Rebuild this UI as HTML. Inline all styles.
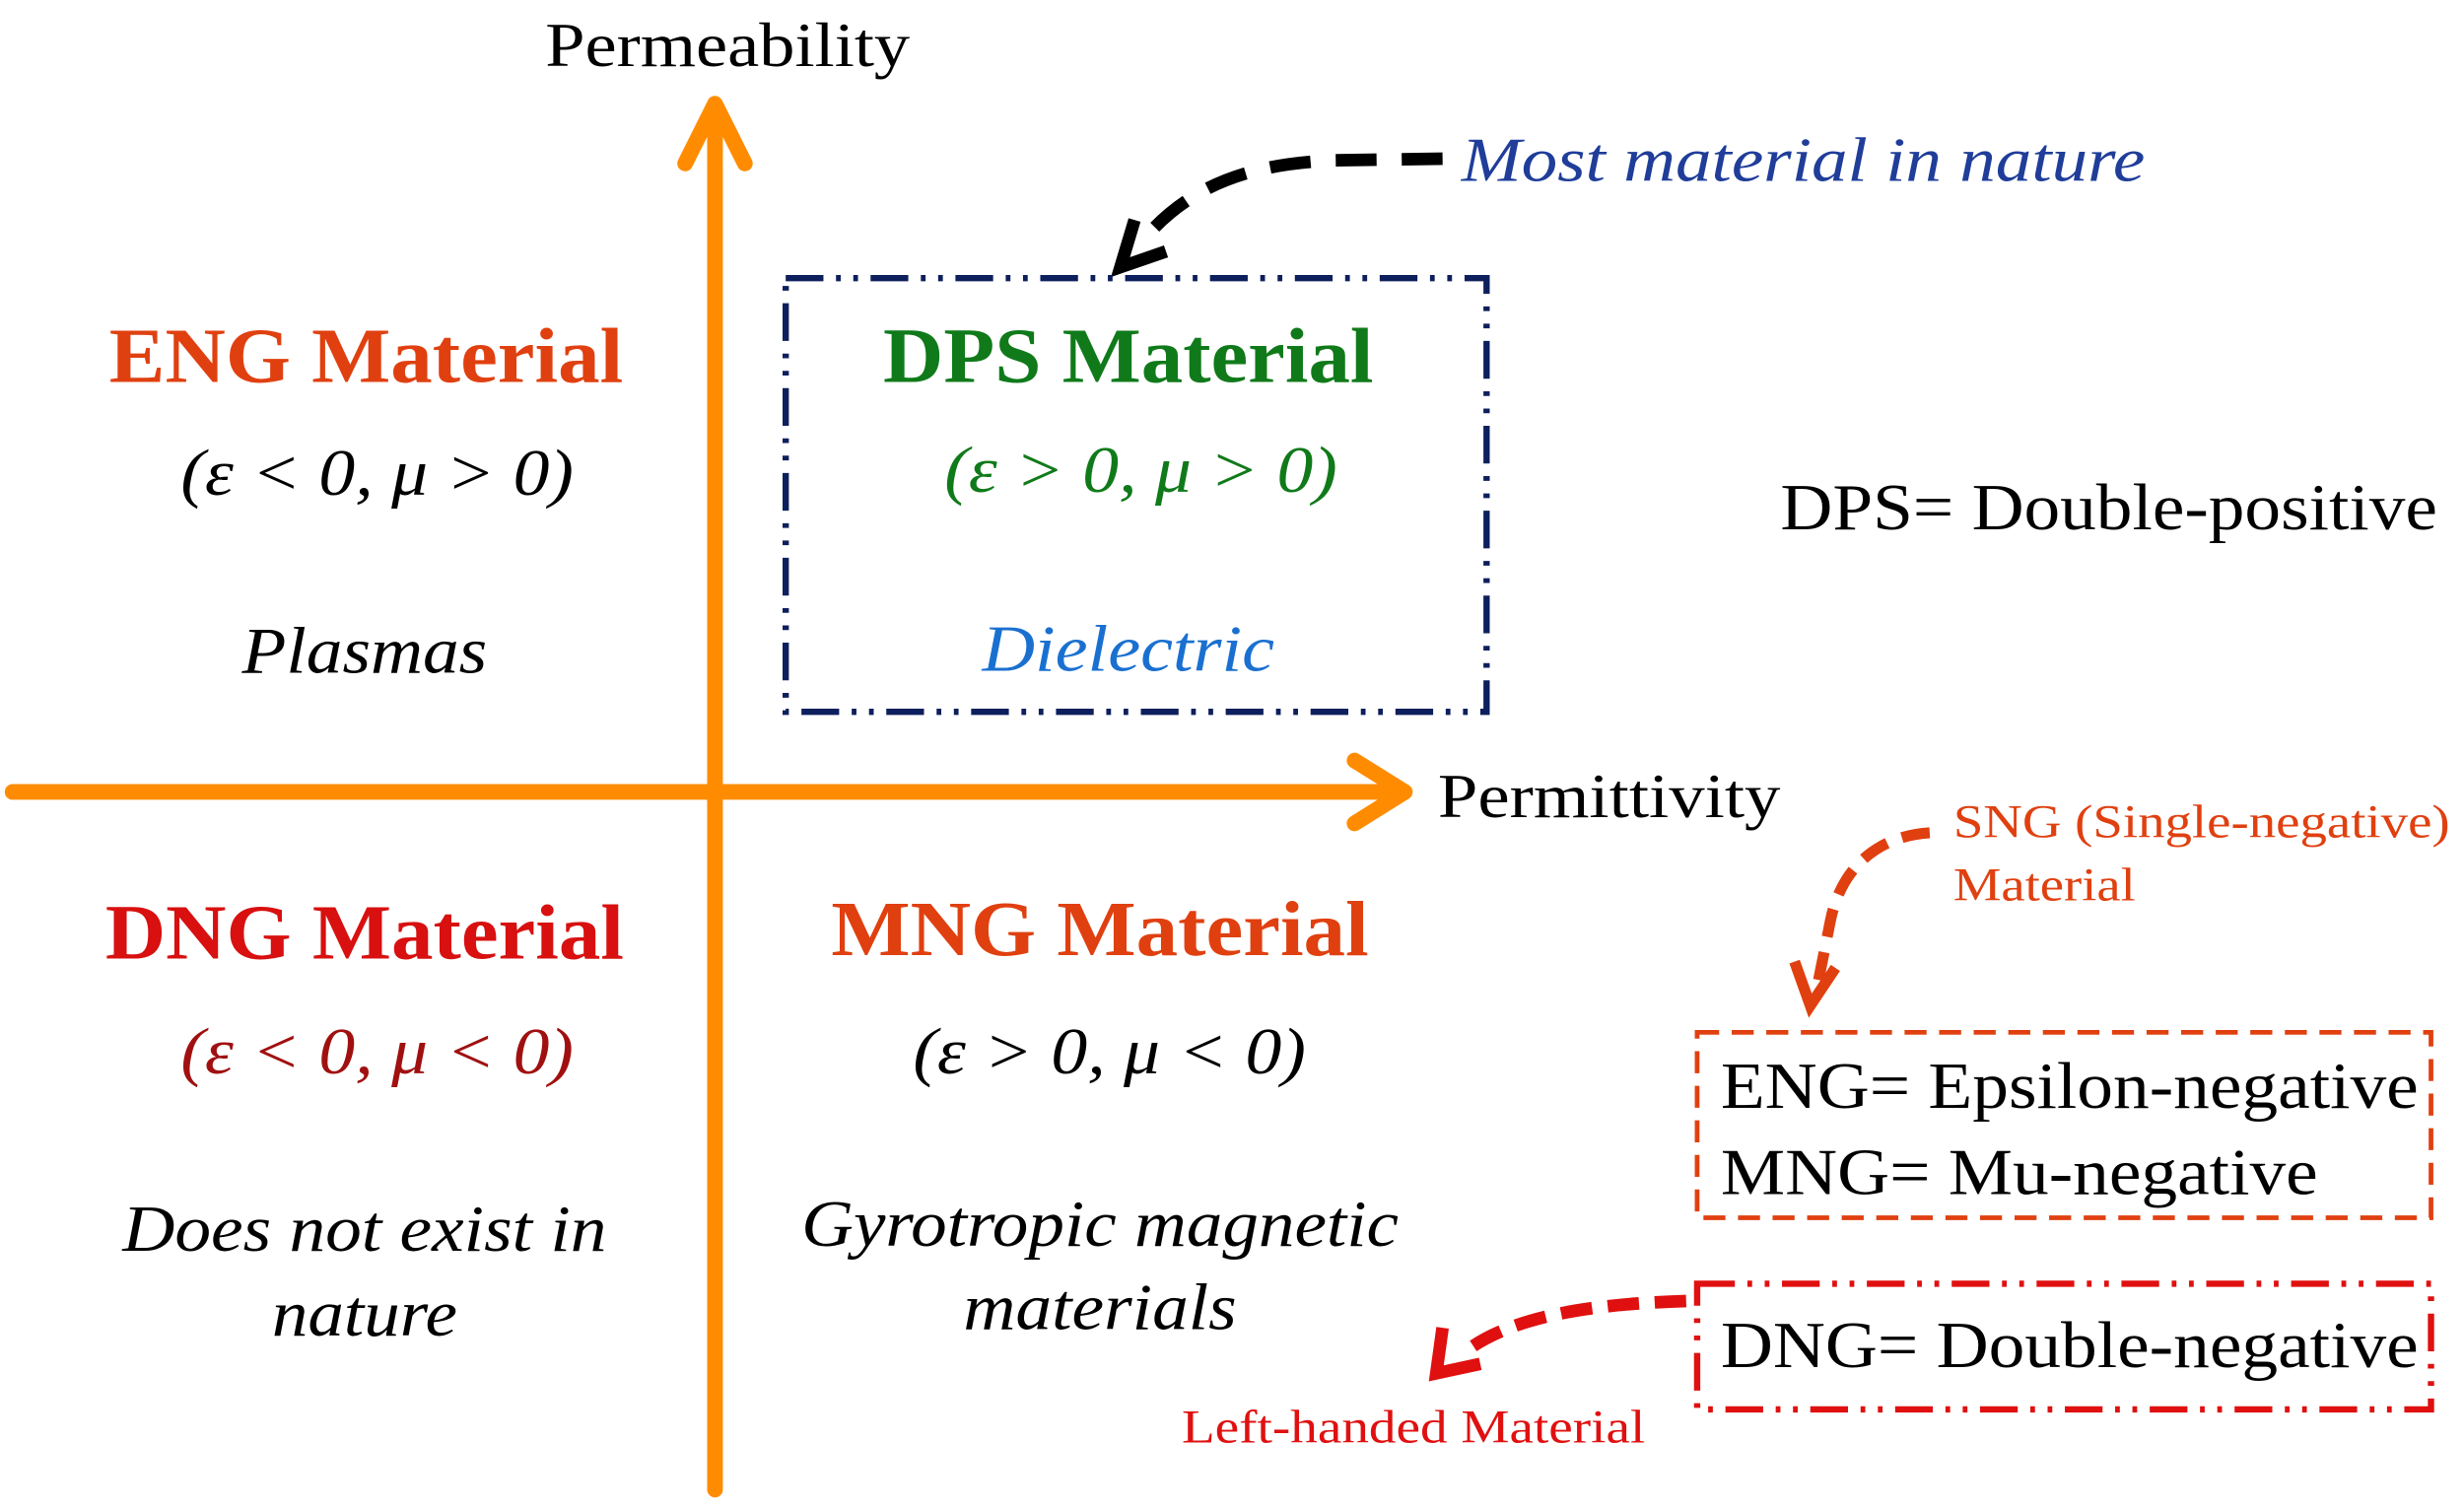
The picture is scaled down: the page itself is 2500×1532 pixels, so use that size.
<!DOCTYPE html>
<html><head><meta charset="utf-8"><style>
html,body{margin:0;padding:0;background:#fff;}
svg{display:block;}
text{font-family:"Liberation Serif",serif;}
</style></head><body>
<svg width="2500" height="1532" viewBox="0 0 1568 961" preserveAspectRatio="none" xmlns="http://www.w3.org/2000/svg">
<rect width="1568" height="961" fill="#fff"/>
<!-- axes -->
<g stroke="#ff8c00" stroke-width="10" fill="none" stroke-linecap="round" stroke-linejoin="round">
<line x1="455" y1="948" x2="455" y2="68"/>
<polyline points="436,104 455,66 474,104"/>
<line x1="8" y1="504" x2="892" y2="504"/>
<polyline points="862,484 894,504 862,524"/>
</g>
<text x="463" y="42" font-size="40" text-anchor="middle" textLength="232" lengthAdjust="spacingAndGlyphs">Permeability</text>
<text x="915" y="520" font-size="40" textLength="218" lengthAdjust="spacingAndGlyphs">Permittivity</text>
<!-- Most material -->
<text x="930" y="115" font-size="40" font-style="italic" fill="#1f3d99" textLength="435" lengthAdjust="spacingAndGlyphs">Most material in nature</text>
<path d="M918,101 L850,102 C800,104 760,115 728,152" stroke="#000" stroke-width="8" fill="none" stroke-dasharray="26,16"/>
<polyline points="722,140 713,170 742,160" stroke="#000" stroke-width="8" fill="none"/>
<!-- DPS box -->
<rect x="500" y="177" width="446" height="276" fill="none" stroke="#0d1f5c" stroke-width="4" stroke-dasharray="24,8,3,8,3,8"/>
<!-- quadrants -->
<g font-weight="bold" font-size="50">
<text x="233" y="243" text-anchor="middle" fill="#e04010" textLength="327" lengthAdjust="spacingAndGlyphs">ENG Material</text>
<text x="718" y="243" text-anchor="middle" fill="#107a1a" textLength="312" lengthAdjust="spacingAndGlyphs">DPS Material</text>
<text x="232" y="610" text-anchor="middle" fill="#d81010" textLength="330" lengthAdjust="spacingAndGlyphs">DNG Material</text>
<text x="700" y="608" text-anchor="middle" fill="#e04010" textLength="342" lengthAdjust="spacingAndGlyphs">MNG Material</text>
</g>
<g font-style="italic" font-size="42" text-anchor="middle">
<text x="240" y="315" textLength="250" lengthAdjust="spacingAndGlyphs">(ε &lt; 0, μ &gt; 0)</text>
<text x="726" y="313" fill="#107a1a" textLength="250" lengthAdjust="spacingAndGlyphs">(ε &gt; 0, μ &gt; 0)</text>
<text x="240" y="683" fill="#a01010" textLength="250" lengthAdjust="spacingAndGlyphs">(ε &lt; 0, μ &lt; 0)</text>
<text x="706" y="683" textLength="250" lengthAdjust="spacingAndGlyphs">(ε &gt; 0, μ &lt; 0)</text>
<text x="232" y="428" textLength="156" lengthAdjust="spacingAndGlyphs">Plasmas</text>
<text x="718" y="427" fill="#1a70d0" textLength="186" lengthAdjust="spacingAndGlyphs">Dielectric</text>
<text x="232" y="796" textLength="308" lengthAdjust="spacingAndGlyphs">Does not exist in</text>
<text x="232" y="850" textLength="118" lengthAdjust="spacingAndGlyphs">nature</text>
<text x="700" y="793" textLength="380" lengthAdjust="spacingAndGlyphs">Gyrotropic magnetic</text>
<text x="700" y="846" textLength="174" lengthAdjust="spacingAndGlyphs">materials</text>
</g>
<text x="1133" y="337" font-size="42" textLength="418" lengthAdjust="spacingAndGlyphs">DPS= Double-positive</text>
<!-- SNG -->
<text x="1243" y="533" font-size="30" fill="#e04010" textLength="316" lengthAdjust="spacingAndGlyphs">SNG (Single-negative)</text>
<text x="1243" y="573" font-size="30" fill="#e04010" textLength="116" lengthAdjust="spacingAndGlyphs">Material</text>
<path d="M1228,530 C1195,532 1172,552 1165,585 L1156,630" stroke="#e04010" stroke-width="7" fill="none" stroke-dasharray="18,10"/>
<polyline points="1142,612 1152,640 1168,616" stroke="#e04010" stroke-width="7" fill="none"/>
<rect x="1080" y="657" width="467" height="118" fill="none" stroke="#e04010" stroke-width="3" stroke-dasharray="14,8"/>
<text x="1095" y="705" font-size="42" textLength="444" lengthAdjust="spacingAndGlyphs">ENG= Epsilon-negative</text>
<text x="1095" y="760" font-size="42" textLength="380" lengthAdjust="spacingAndGlyphs">MNG= Mu-negative</text>
<!-- DNG -->
<rect x="1080" y="817" width="467" height="80" fill="none" stroke="#e01010" stroke-width="4" stroke-dasharray="24,8,3,8,3,8"/>
<text x="1095" y="870" font-size="42" textLength="444" lengthAdjust="spacingAndGlyphs">DNG= Double-negative</text>
<path d="M1073,828 C1010,830 960,838 930,862" stroke="#e01010" stroke-width="8" fill="none" stroke-dasharray="20,10"/>
<polyline points="918,845 914,874 942,868" stroke="#e01010" stroke-width="8" fill="none"/>
<text x="752" y="918" font-size="30" fill="#e01010" textLength="295" lengthAdjust="spacingAndGlyphs">Left-handed Material</text>
</svg>
</body></html>
